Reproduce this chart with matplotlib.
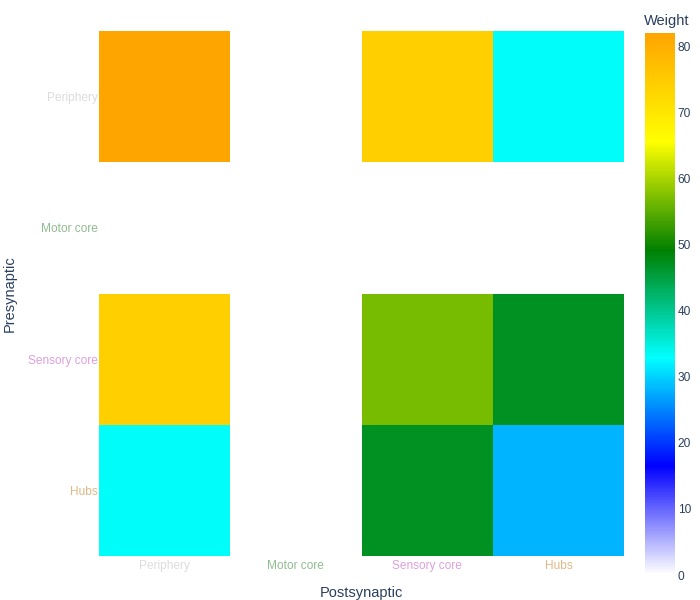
import numpy as np
import matplotlib
matplotlib.use("Agg")
import matplotlib.pyplot as plt
from matplotlib.colors import LinearSegmentedColormap

# connectivity weights between regions (rows = presynaptic, cols = postsynaptic)
regions = ['Periphery', 'Motor core', 'Sensory core', 'Hubs']
label_colors = ['gainsboro', 'darkseagreen', 'plum', 'burlywood']
periphery_row = [82, np.nan, 74, 33]
motor_row = [np.nan, np.nan, np.nan, np.nan]
sensory_row = [74, np.nan, 57, 47]
hubs_row = [33, np.nan, 47, 28]

weights = np.ma.masked_invalid(np.array([periphery_row, motor_row, sensory_row, hubs_row]))

plt.rcParams['font.family'] = ['Liberation Sans', 'DejaVu Sans']
text_col = '#2a3f5f'

cmap = LinearSegmentedColormap.from_list('weight', [(0, 'white'), (0.2, 'blue'), (0.4, 'cyan'),
                                                    (0.6, 'green'), (0.8, 'yellow'), (1, 'orange')])

fig = plt.figure(figsize=(7, 6), dpi=100)
ax = fig.add_axes([99/700, 1 - 556/600, 525/700, 525/600])
mesh = ax.pcolormesh(np.arange(5), np.arange(5), weights, cmap=cmap, vmin=0, vmax=82)
ax.set_xlim(0, 4)
ax.set_ylim(4, 0)
for s in ax.spines.values():
    s.set_visible(False)

ax.set_xticks(np.arange(4) + 0.5)
ax.set_xticklabels(regions, fontsize=8.6)
ax.set_yticks(np.arange(4) + 0.5)
ax.set_yticklabels(regions, fontsize=8.6)
ax.tick_params(length=0, pad=3)
ax.tick_params(axis='y', pad=1)
for lbl, c in zip(ax.get_xticklabels(), label_colors):
    lbl.set_color(c)
for lbl, c in zip(ax.get_yticklabels(), label_colors):
    lbl.set_color(c)

ax.set_xlabel('Postsynaptic', fontsize=10.5, color=text_col, labelpad=10)
ax.set_ylabel('Presynaptic', fontsize=10.5, color=text_col, labelpad=8)

cax = fig.add_axes([645/700, 1 - 575/600, 30/700, 542/600])
cb = fig.colorbar(mesh, cax=cax)
cb.outline.set_visible(False)
cb.set_ticks(np.arange(0, 81, 10))
cax.tick_params(length=0, pad=2, labelsize=8.6, labelcolor=text_col)
fig.text(644/700, 1 - 21/600, 'Weight', fontsize=10.5, color=text_col, ha='left', va='center')

fig.savefig('out.png', dpi=100)
